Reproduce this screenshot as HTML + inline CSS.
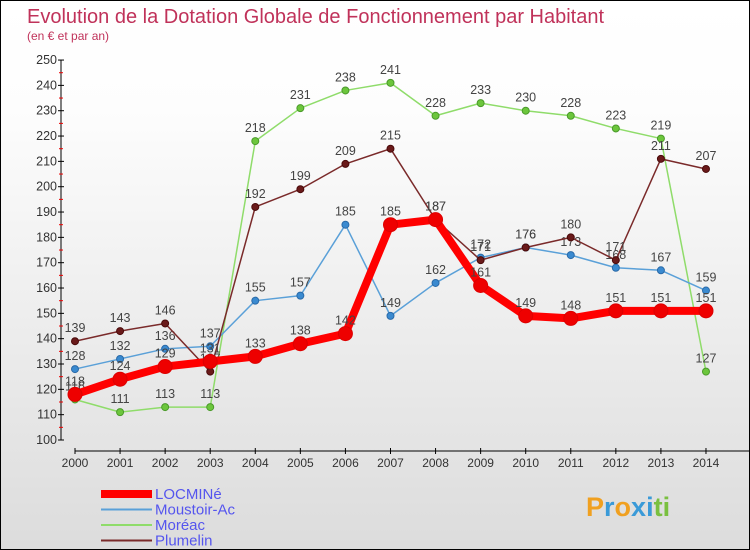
<!DOCTYPE html>
<html><head><meta charset="utf-8"><style>
body{margin:0}
#c{width:748px;height:548px;border:1px solid #000;background:linear-gradient(#fff,#fdfdfd 20%,#dcdcdc);position:relative;overflow:hidden;font-family:"Liberation Sans",sans-serif}
</style></head><body>
<div id="c">
<svg id="s" width="748" height="548"></svg>
</div>
<script>
const years=["2000","2001","2002","2003","2004","2005","2006","2007","2008","2009","2010","2011","2012","2013","2014"];
const locmine=[118,124,129,131,133,138,142,185,187,161,149,148,151,151,151];
const moustoir=[128,132,136,137,155,157,185,149,162,172,176,173,168,167,159];
const moreac=[116,111,113,113,218,231,238,241,228,233,230,228,223,219,127];
const plumelin=[139,143,146,127,192,199,209,215,187,171,176,180,171,211,207];
const yTicks=[100,110,120,130,140,150,160,170,180,190,200,210,220,230,240,250];
const NS="http://www.w3.org/2000/svg",svg=document.getElementById('s');
const X=i=>74+i*45.07, Y=v=>439-(v-100)*2.533;
function el(t,a,p){const e=document.createElementNS(NS,t);for(const k in a)e.setAttribute(k,a[k]);(p||svg).appendChild(e);return e;}
let t=el('text',{x:26,y:22,fill:'#c0325a','font-size':20});t.textContent='Evolution de la Dotation Globale de Fonctionnement par Habitant';


t=el('text',{x:26,y:39,fill:'#c0325a','font-size':12});t.textContent='(en € et par an)';


const ax=el('g',{});


el('line',{x1:60,y1:Y(250),x2:60,y2:Y(100),stroke:'#000'},ax);
yTicks.forEach(v=>{el('line',{x1:57,x2:63,y1:Y(v),y2:Y(v),stroke:'#000'},ax);
 if(v<250)el('line',{x1:58,x2:62,y1:Y(v+5),y2:Y(v+5),stroke:'#e00'},ax);
 const tt=el('text',{x:56,y:Y(v)+4,'text-anchor':'end','font-size':12.5,fill:'#333'},ax);tt.textContent=v;});
const xa=el('g',{});


el('line',{x1:X(0),y1:450,x2:748,y2:450,stroke:'#000'},xa);
years.forEach((y,i)=>{el('line',{x1:X(i),x2:X(i),y1:447,y2:453,stroke:'#000'},xa);
 const tt=el('text',{x:X(i),y:466,'text-anchor':'middle','font-size':12,fill:'#333'},xa);tt.textContent=y;});
function series(name,data,color,w,r,dot,stroke){
 const g=el('g',{});
 
 
 el('polyline',{points:data.map((v,i)=>X(i)+','+Y(v)).join(' '),fill:'none',stroke:color,'stroke-width':w,'stroke-linejoin':'round'},g);
 data.forEach((v,i)=>{const c=el('circle',{cx:X(i),cy:Y(v),r:r,fill:dot,stroke:stroke,'stroke-width':1},g);
  
  
  const tt=el('text',{x:X(i),y:Y(v)-9,'text-anchor':'middle','font-size':12.5,fill:'#444'},g);tt.textContent=v;});
}
series('moreac',moreac,'#8fdc6a',1.5,3.5,'#6cc63c','#4a9a2a');
series('moustoir',moustoir,'#5aa0d8',1.5,3.5,'#3a8ad0','#2a6aa8');
series('plumelin',plumelin,'#7a2a2a',1.5,3.5,'#6a1a1a','#4a0a0a');
series('locmine',locmine,'#ff0000',8,7,'#ee0000','#dd0000');
const lg=el('g',{});


[['LOCMINé','#f00',8],['Moustoir-Ac','#5aa0d8',2],['Moréac','#8fdc6a',2],['Plumelin','#7a2a2a',2]].forEach((d,i)=>{
 const y=493+i*15.5;
 el('line',{x1:100,x2:151,y1:y,y2:y,stroke:d[1],'stroke-width':d[2]},lg);
 const tt=el('text',{x:154,y:y+5,'font-size':15,fill:'#5555ee'},lg);tt.textContent=d[0];
 
 
});
const lo=el('text',{x:585,y:515,'font-size':27,'font-weight':'bold',fill:'#3a9ad8'});


lo.innerHTML='<tspan fill="#f0a020">P</tspan><tspan fill="#3a9ad8">r</tspan><tspan fill="#f0a020">o</tspan><tspan fill="#3a9ad8">x</tspan><tspan fill="#3a9ad8">i</tspan><tspan fill="#7ac040">ti</tspan>';
</script>
</body></html>
